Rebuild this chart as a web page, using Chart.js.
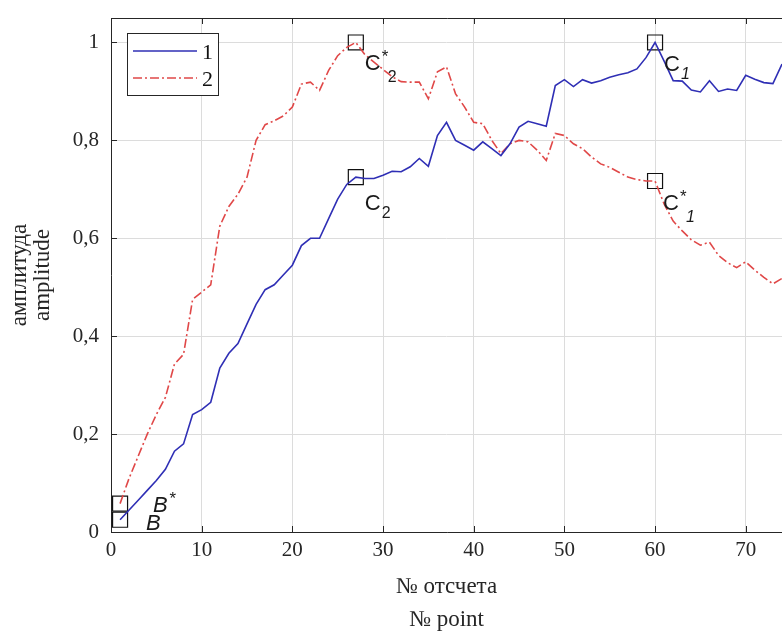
<!DOCTYPE html>
<html>
<head>
<meta charset="utf-8">
<script src="https://cdn.jsdelivr.net/npm/chart.js@4.4.1/dist/chart.umd.min.js"></script>
<style>
  html, body { margin: 0; padding: 0; background: #fff; overflow: hidden; }
  #wrap { position: relative; width: 782px; height: 637px; }
  #chart { display: block; }
</style>
</head>
<body>
<div id="wrap"><canvas id="chart"></canvas></div>
<script>
// series, one value per sample 1..74
const series1 = [
  0.025, 0.045, 0.065, 0.085, 0.105, 0.128, 0.165, 0.18, 0.24, 0.25,
  0.265, 0.335, 0.365, 0.385, 0.425, 0.465, 0.495, 0.505, 0.525, 0.545,
  0.585, 0.60, 0.60, 0.64, 0.68, 0.71, 0.725, 0.722, 0.722, 0.729,
  0.737, 0.736, 0.746, 0.763, 0.747, 0.81, 0.837, 0.80, 0.79, 0.78,
  0.797, 0.783, 0.769, 0.793, 0.827, 0.839, 0.834, 0.829, 0.912, 0.924,
  0.91, 0.924, 0.917, 0.922, 0.929, 0.934, 0.938, 0.946, 0.969, 1.0,
  0.962, 0.922, 0.921, 0.903, 0.899, 0.922, 0.90, 0.905, 0.902, 0.933,
  0.925, 0.918, 0.916, 0.956
];
const series2 = [
  0.058, 0.11, 0.155, 0.20, 0.24, 0.275, 0.343, 0.363, 0.475, 0.49,
  0.505, 0.625, 0.665, 0.69, 0.725, 0.80, 0.832, 0.84, 0.85, 0.868,
  0.915, 0.919, 0.902, 0.943, 0.973, 0.99, 1.0, 0.975, 0.96, 0.945,
  0.93, 0.92, 0.919, 0.919, 0.885, 0.94, 0.95, 0.895, 0.868, 0.837,
  0.834, 0.80, 0.773, 0.793, 0.80, 0.797, 0.78, 0.759, 0.814, 0.81,
  0.793, 0.783, 0.766, 0.752, 0.745, 0.735, 0.725, 0.72, 0.717, 0.717,
  0.67, 0.635, 0.615, 0.597, 0.586, 0.592, 0.565, 0.55, 0.54, 0.552,
  0.535, 0.52, 0.507, 0.518
];
const seriesNames = ['1', '2'];
const xTicks = [0, 10, 20, 30, 40, 50, 60, 70];
const yTicks = [0, 0.2, 0.4, 0.6, 0.8, 1];

// marked samples and their names
const markSamples = [1, 27, 60];
const markLetters = ['B', 'C', 'C'];
const markSubs = ['', '2', '1'];

const xTitle = ['№ отсчета', '№ point'];
const yTitle = ['амплитуда', 'amplitude'];

const BLUE = '#2f2fb5';
const RED = '#e04848';
const AXIS = '#262626';
const SERIF = '"Liberation Serif", "Times New Roman", serif';
const SANS = '"Liberation Sans", Arial, sans-serif';

function toPoints(values) {
  return values.map((v, i) => ({ x: i + 1, y: v }));
}

function markPoints(values) {
  return markSamples.map(s => ({ x: s, y: values[s - 1] }));
}

// box lines and inward ticks like the original figure
const framePlugin = {
  id: 'frame',
  beforeDatasetsDraw(chart) {
    const { ctx, chartArea: a, scales } = chart;
    ctx.save();
    ctx.strokeStyle = AXIS;
    ctx.lineWidth = 1;
    ctx.beginPath();
    ctx.moveTo(a.left + 0.5, a.top + 0.5);
    ctx.lineTo(a.left + 0.5, a.bottom + 0.5);
    ctx.lineTo(a.right + 1, a.bottom + 0.5);
    ctx.moveTo(a.left + 0.5, a.top + 0.5);
    ctx.lineTo(a.right + 1, a.top + 0.5);
    xTicks.forEach(t => {
      const px = Math.round(scales.x.getPixelForValue(t)) + 0.5;
      ctx.moveTo(px, a.bottom);
      ctx.lineTo(px, a.bottom - 6);
      ctx.moveTo(px, a.top);
      ctx.lineTo(px, a.top + 6);
    });
    yTicks.forEach(t => {
      const py = Math.round(scales.y.getPixelForValue(t)) + 0.5;
      ctx.moveTo(a.left, py);
      ctx.lineTo(a.left + 6, py);
    });
    ctx.stroke();
    ctx.restore();
  }
};

// letters next to the marked samples
const markLabelPlugin = {
  id: 'markLabels',
  afterDatasetsDraw(chart) {
    const { ctx, scales } = chart;
    // text offsets from each square: [series][mark] = [dx, dy of baseline]
    const offs = [
      [[26, 10], [9, 33], [9, 29]],
      [[33, 8], [9, 28], [8, 29]]
    ];
    ctx.save();
    ctx.fillStyle = '#1a1a1a';
    ctx.textBaseline = 'alphabetic';
    [series1, series2].forEach((vals, si) => {
      markSamples.forEach((s, mi) => {
        const px = scales.x.getPixelForValue(s);
        const py = scales.y.getPixelForValue(vals[s - 1]);
        let x = px + offs[si][mi][0];
        const y = py + offs[si][mi][1];
        const italic = markLetters[mi] === 'B';
        ctx.font = (italic ? 'italic ' : '') + '22px ' + SANS;
        ctx.fillText(markLetters[mi], x, y);
        x += ctx.measureText(markLetters[mi]).width;
        if (si === 1) {
          ctx.font = (italic ? 'italic ' : '') + '17px ' + SANS;
          ctx.fillText('*', x + 1, y - 8);
          x += 6;
        }
        if (markSubs[mi]) {
          ctx.font = (markSubs[mi] === '1' ? 'italic ' : '') + '16px ' + SANS;
          ctx.fillText(markSubs[mi], x + 1, y + (si === 1 ? 12 : 8));
        }
      });
    });
    ctx.restore();
  }
};

// legend box in the upper left corner of the plot
const legendBoxPlugin = {
  id: 'legendBox',
  afterDraw(chart) {
    const { ctx, chartArea: a } = chart;
    const x0 = a.left + 16, y0 = a.top + 15, w = 91, h = 62;
    ctx.save();
    ctx.fillStyle = '#fff';
    ctx.fillRect(x0, y0, w, h);
    ctx.strokeStyle = AXIS;
    ctx.lineWidth = 1;
    ctx.strokeRect(x0 + 0.5, y0 + 0.5, w, h);
    const rows = chart.data.datasets.filter(d => !d.isMark);
    rows.forEach((d, i) => {
      const y = y0 + 18 + i * 27;
      ctx.strokeStyle = d.borderColor;
      ctx.lineWidth = d.borderWidth;
      ctx.setLineDash(d.borderDash || []);
      ctx.beginPath();
      ctx.moveTo(x0 + 6, y);
      ctx.lineTo(x0 + 70, y);
      ctx.stroke();
      ctx.setLineDash([]);
      ctx.fillStyle = '#111';
      ctx.font = '22px ' + SERIF;
      ctx.textBaseline = 'middle';
      ctx.fillText(d.label, x0 + 75, y + 2);
    });
    ctx.restore();
  }
};

const markStyle = {
  type: 'scatter',
  isMark: true,
  pointStyle: 'rect',
  pointRadius: 10.6,
  pointHoverRadius: 10.6,
  pointBorderColor: '#111',
  pointBorderWidth: 1.2,
  pointBackgroundColor: 'rgba(0,0,0,0)',
  showLine: false
};

new Chart(document.getElementById('chart'), {
  type: 'line',
  data: {
    datasets: [
      {
        label: seriesNames[0],
        data: toPoints(series1),
        borderColor: BLUE,
        borderWidth: 1.6,
        pointRadius: 0,
        tension: 0
      },
      {
        label: seriesNames[1],
        data: toPoints(series2),
        borderColor: RED,
        borderWidth: 1.6,
        borderDash: [9, 3, 2, 3],
        pointRadius: 0,
        tension: 0
      },
      Object.assign({ label: 'm1', data: markPoints(series1) }, markStyle),
      Object.assign({ label: 'm2', data: markPoints(series2) }, markStyle)
    ]
  },
  options: {
    responsive: true,
    maintainAspectRatio: false,
    animation: false,
    layout: { autoPadding: false, padding: { top: 18, right: 0, bottom: 0, left: 0 } },
    plugins: {
      legend: { display: false },
      tooltip: { enabled: false }
    },
    scales: {
      x: {
        type: 'linear',
        min: 0,
        max: 74,
        afterBuildTicks: s => { s.ticks = xTicks.map(v => ({ value: v })); },
        afterFit: s => { s.height = 105; s.paddingLeft = 0; s.paddingRight = 0; },
        grid: { color: '#dcdcdc', drawTicks: false },
        border: { display: false },
        ticks: {
          color: AXIS,
          padding: 6,
          font: { family: SERIF, size: 21 },
          callback: v => String(v)
        },
        title: {
          display: true,
          text: xTitle,
          color: AXIS,
          font: { family: SERIF, size: 23, lineHeight: 1.45 },
          padding: { top: 4, bottom: 0 }
        }
      },
      y: {
        min: 0,
        max: 1.05,
        afterBuildTicks: s => { s.ticks = yTicks.map(v => ({ value: v })); },
        afterFit: s => { s.width = 111; s.paddingTop = 0; s.paddingBottom = 0; },
        grid: { color: '#dcdcdc', drawTicks: false },
        border: { display: false },
        ticks: {
          color: AXIS,
          padding: 12,
          font: { family: SERIF, size: 21 },
          callback: v => String(Math.round(v * 10) / 10).replace('.', ',')
        },
        title: {
          display: true,
          text: yTitle,
          color: AXIS,
          font: { family: SERIF, size: 23, lineHeight: 1.0 },
          padding: { top: 8, bottom: 0 }
        }
      }
    }
  },
  plugins: [framePlugin, markLabelPlugin, legendBoxPlugin]
});
</script>
</body>
</html>
